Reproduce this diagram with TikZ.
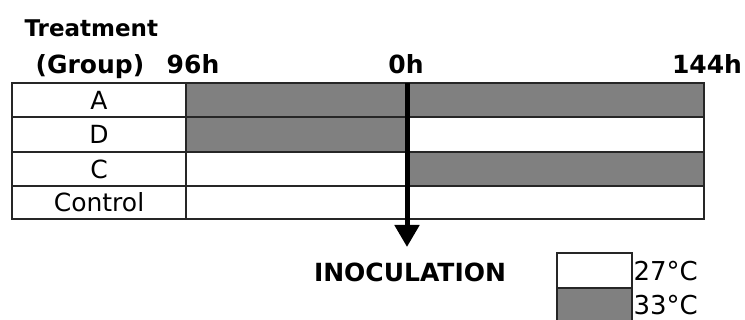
\documentclass[tikz,border=0pt]{standalone}
\usepackage{fontspec}
\setmainfont{DejaVu Sans}
\usetikzlibrary{arrows.meta}

\begin{document}
\begin{tikzpicture}[
    x=1pt, y=-1pt,
    grid/.style={draw=black!85, line width=2pt},
    warm/.style={fill=black!50},
    cell/.style={font=\fontsize{25}{25}\selectfont, anchor=center},
    head/.style={font=\fontsize{25}{25}\selectfont\bfseries, anchor=base},
    arr/.style={-{Triangle[width=24pt, length=22pt]}, line width=5pt}
]
\useasboundingbox (0,0) rectangle (745,320);
% heading
\node[head, anchor=base west, font=\fontsize{23}{23}\selectfont\bfseries] (treat) at (21,37) {Treatment};
\node[head] (grp) at (90,74) {(Group)};
\node[head] (t96) at (193,74) {96h};
\node[head] (t0) at (406,74) {0h};
\node[head] (t144) at (707,74) {144h};
% shaded periods
\fill[warm] (186,83) rectangle (704,117);
\fill[warm] (186,117) rectangle (407,152);
\fill[warm] (407,152) rectangle (704,186);
% table grid
\draw[grid] (12,83) rectangle (704,219);
\draw[grid] (12,117) -- (704,117);
\draw[grid] (12,152) -- (704,152);
\draw[grid] (12,186) -- (704,186);
\draw[grid] (186,83) -- (186,219);
% groups
\node[cell] (gA) at (99,100) {A};
\node[cell] (gD) at (99,134.5) {D};
\node[cell] (gC) at (99,169) {C};
\node[cell] (gK) at (99,202.5) {Control};
% inoculation
\coordinate (inj) at (407,83);
\coordinate (tip) at (407,247);
\node[head] (inoc) at (410,282) {INOCULATION};
\draw[arr] (inj) -- (tip);
% legend
\draw[grid, fill=white] (557,253) rectangle (632,288);
\draw[grid, warm] (557,288) rectangle (632,324);
\node[cell, anchor=west, font=\fontsize{26}{26}\selectfont] (l27) at (630,271) {27°C};
\node[cell, anchor=west, font=\fontsize{26}{26}\selectfont] (l33) at (630,305) {33°C};
\end{tikzpicture}
\end{document}
